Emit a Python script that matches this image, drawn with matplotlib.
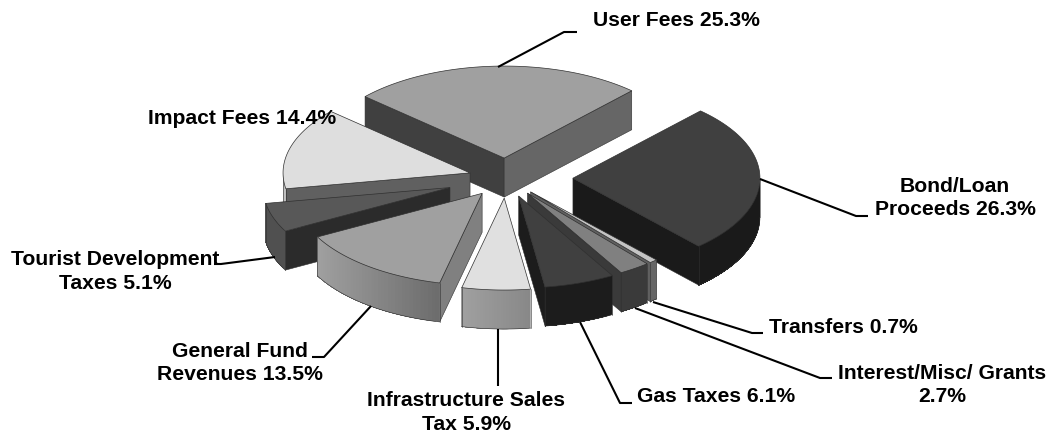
import numpy as np
from matplotlib import pyplot as plt

# values as printed on the chart, clockwise starting at the bond slice
labels = ['Bond/Loan\nProceeds 26.3%', 'Transfers 0.7%', 'Interest/Misc/ Grants\n2.7%', 'Gas Taxes 6.1%',
          'Infrastructure Sales\nTax 5.9%', 'General Fund\nRevenues 13.5%', 'Tourist Development\nTaxes 5.1%',
          'Impact Fees 14.4%', 'User Fees 25.3%']
values = [26.3, 0.7, 2.7, 6.1, 5.9, 13.5, 5.1, 14.4, 25.3]

explode = [0.358, 0.2, 0.2, 0.207, 0.218, 0.21, 0.317, 0.2, 0.217]

# top, start wall, end wall, arc left end, arc right end
shades = [
    ('#404040', '#1a1a1a', '#1a1a1a', '#1a1a1a', '#1a1a1a'),
    ('#c4c4c4', '#606060', '#606060', '#666666', '#666666'),
    ('#808080', '#3a3a3a', '#3a3a3a', '#3a3a3a', '#3a3a3a'),
    ('#404040', '#1c1c1c', '#1c1c1c', '#1c1c1c', '#1c1c1c'),
    ('#e0e0e0', '#8c8c8c', '#8c8c8c', '#a0a0a0', '#888888'),
    ('#a0a0a0', '#808080', '#808080', '#a0a0a0', '#6c6c6c'),
    ('#585858', '#2b2b2b', '#2b2b2b', '#505050', '#505050'),
    ('#dedede', '#606060', '#606060', '#c0c0c0', '#c0c0c0'),
    ('#a0a0a0', '#404040', '#666666', '#666666', '#666666'),
]

draw_order = [8, 7, 6, 5, 0, 1, 2, 3, 4]

CX, CY = 506, 179
RX, RY = 187, 92
DEPTH = 39
FIRST_ANGLE = 43


def rim(theta):
    t = np.radians(theta)
    return RX * np.sin(t), -RY * np.cos(t)


def to_rgb(hex_colour):
    return np.array([int(hex_colour[i:i + 2], 16) / 255 for i in (1, 3, 5)])


def draw_slice(ax, idx, start, end):
    top, wall_a, wall_b, arc_l, arc_r = shades[idx]
    mx, my = rim((start + end) / 2)
    ax_x = CX + explode[idx] * mx
    ax_y = CY + explode[idx] * my

    # radial walls, only the ones facing the viewer
    for theta, col, visible in ((start, wall_a, np.sin(np.radians(start)) < 0),
                                (end, wall_b, np.sin(np.radians(end)) > 0)):
        if not visible:
            continue
        x, y = rim(theta)
        ax.fill([ax_x, ax_x + x, ax_x + x, ax_x], [ax_y, ax_y + y, ax_y + y + DEPTH, ax_y + DEPTH],
                facecolor=col, edgecolor='#303030', linewidth=0.4, zorder=1)

    # outer wall, only the front half of the rim shows
    lo, hi = max(start, 90), min(end, 270)
    if hi > lo:
        steps = np.linspace(lo, hi, 41)
        xs, ys = rim(steps)
        left_end, right_end = xs.min(), xs.max()
        # each piece runs on to the end of the arc so no seams show
        for i in range(40):
            frac = ((xs[i] + xs[i + 1]) / 2 - left_end) / max(right_end - left_end, 1)
            col = to_rgb(arc_l) * (1 - frac) + to_rgb(arc_r) * frac
            ax.fill(ax_x + np.r_[xs[i:], xs[i:][::-1]], ax_y + np.r_[ys[i:], ys[i:][::-1] + DEPTH],
                    facecolor=col, edgecolor='none', zorder=1)
        ax.plot(ax_x + xs, ax_y + ys + DEPTH, color='#303030', lw=0.4, zorder=1)
        ax.plot([ax_x + xs[0]] * 2, [ax_y + ys[0], ax_y + ys[0] + DEPTH], color='#303030', lw=0.4, zorder=1)
        ax.plot([ax_x + xs[-1]] * 2, [ax_y + ys[-1], ax_y + ys[-1] + DEPTH], color='#303030', lw=0.4, zorder=1)

    steps = np.linspace(start, end, 80)
    xs, ys = rim(steps)
    ax.fill(np.r_[ax_x, ax_x + xs], np.r_[ax_y, ax_y + ys],
            facecolor=top, edgecolor='#303030', linewidth=0.5, zorder=1)


def main():
    fig = plt.figure(figsize=(10.5, 4.35), dpi=100)
    ax = fig.add_axes([0, 0, 1, 1])
    ax.set_xlim(0, 1050)
    ax.set_ylim(435, 0)
    ax.axis('off')

    edges = FIRST_ANGLE + np.r_[0, np.cumsum(values)] * 3.6
    for idx in draw_order:
        draw_slice(ax, idx, edges[idx], edges[idx + 1])

    # leader lines
    leaders = [
        ([760, 856, 868], [180, 217, 217]),
        ([653, 752, 763], [303, 334, 334]),
        ([635, 820, 832], [309, 379, 379]),
        ([580, 620, 632], [323, 404, 404]),
        ([497.5, 497.5], [330, 387]),
        ([371, 324, 312], [307, 358, 358]),
        ([275, 221, 214], [258, 265, 265]),
        ([498, 564, 577], [68, 33, 33]),
    ]
    for xs, ys in leaders:
        ax.plot(xs, ys, color='black', lw=1.5, zorder=2, solid_capstyle='butt')

    positions = [(955, 198), (843.5, 328), (942, 385), (716, 397), (466, 412.5), (239.8, 363), (115.4, 271.5),
                 (242.5, 118), (676, 21)]
    for text, (x, y) in zip(labels, positions):
        ax.text(x, y, text, ha='center', va='center', fontsize=15.2, fontweight='bold',
                family='Liberation Sans', linespacing=1.3, zorder=3)

    plt.savefig('out.png', dpi=100)


if __name__ == '__main__':
    main()
